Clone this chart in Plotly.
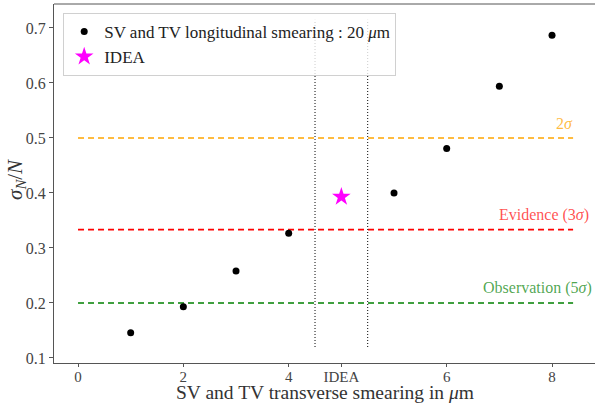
import plotly.graph_objects as go

# Data
x_positions = [1, 2, 3, 4, 6, 7, 8, 9]
sigma_over_n = [0.146, 0.193, 0.258, 0.327, 0.400, 0.481, 0.594, 0.687]
idea_x = [5]
idea_y = [0.393]
tick_vals = [0, 2, 4, 5, 7, 9]
tick_text = ["0", "2", "4", "IDEA", "6", "8"]
y_ticks = [0.1, 0.2, 0.3, 0.4, 0.5, 0.6, 0.7]
y_tick_text = ["0.1", "0.2", "0.3", "0.4", "0.5", "0.6", "0.7"]
thresholds = [0.5, 1/3, 0.2]
threshold_labels = ["2<i>σ</i>", "Evidence (3<i>σ</i>)", "Observation (5<i>σ</i>)"]
threshold_colors = ["#FFA500", "#FF0000", "#008000"]
threshold_text_colors = ["rgba(255,165,0,0.75)", "rgba(255,0,0,0.7)", "rgba(0,128,0,0.7)"]
label_x = [9.44, 9.74, 9.80]
line_x = [0, 9.4]
idea_band = [4.5, 5.5]
band_y = [0.12, 0.715]

FONT = "Liberation Serif"
X_RANGE = [-0.456, 9.816]

fig = go.Figure()

for yv, c in zip(thresholds, threshold_colors):
    fig.add_trace(go.Scatter(x=line_x, y=[yv, yv], mode="lines",
                             line=dict(color=c, width=1.6, dash="6px,4px"),
                             showlegend=False, hoverinfo="skip"))

for xv in idea_band:
    fig.add_trace(go.Scatter(x=[xv, xv], y=band_y, mode="lines",
                             line=dict(color="black", width=1, dash="1px,2px"),
                             showlegend=False, hoverinfo="skip"))

fig.add_trace(go.Scatter(x=x_positions, y=sigma_over_n, mode="markers",
                         marker=dict(color="black", size=7),
                         name="SV and TV longitudinal smearing : 20 <i>μ</i>m"))
fig.add_trace(go.Scatter(x=idea_x, y=idea_y, mode="markers",
                         marker=dict(color="#FF00FF", size=14, symbol="star"),
                         name="IDEA"))
# invisible trace to activate the tick-mark axis
fig.add_trace(go.Scatter(x=[tick_vals[0]], y=[thresholds[0]], xaxis="x2", mode="markers",
                         marker=dict(opacity=0), showlegend=False, hoverinfo="skip"))

for yv, lab, c, lx in zip(thresholds, threshold_labels, threshold_text_colors, label_x):
    fig.add_annotation(x=lx, y=yv, text=lab, showarrow=False,
                       xanchor="right", yanchor="bottom", yshift=4,
                       font=dict(family=FONT, size=16, color=c))

# axis titles
fig.add_annotation(xref="paper", yref="paper", x=0.5, y=0, yshift=-42,
                   xanchor="center", yanchor="bottom", showarrow=False,
                   text="SV and TV transverse smearing in <i>μ</i>m",
                   font=dict(family=FONT, size=19.5, color="#333333"))
fig.add_annotation(xref="paper", yref="paper", x=0, y=0.51, xshift=-38,
                   xanchor="center", yanchor="middle", showarrow=False, textangle=-90,
                   text="<i>σ</i><sub><i>N</i></sub>/<i>N</i>",
                   font=dict(family=FONT, size=21, color="#333333"))

fig.update_layout(
    width=595, height=405,
    margin=dict(l=54, r=0, t=4, b=42, autoexpand=False),
    paper_bgcolor="white", plot_bgcolor="white",
    font=dict(family=FONT, size=15, color="#333333"),
    showlegend=True,
    legend=dict(x=0.017, y=0.975, xanchor="left", yanchor="top",
                bgcolor="rgba(255,255,255,0.8)", bordercolor="#d0d0d0", borderwidth=1,
                font=dict(family=FONT, size=17, color="#222222"),
                tracegroupgap=0),
    xaxis=dict(range=X_RANGE, tickvals=tick_vals, ticktext=tick_text,
               automargin=False, ticks="",
               showgrid=False, zeroline=False, showline=True, linecolor="#555555",
               linewidth=1,
               tickfont=dict(family=FONT, size=15, color="#444444")),
    xaxis2=dict(range=X_RANGE, tickvals=tick_vals, showticklabels=False,
                overlaying="x", side="bottom", anchor="y", automargin=False,
                showgrid=False, zeroline=False, showline=False,
                ticks="outside", ticklen=3, tickcolor="#555555"),
    yaxis=dict(range=[0.0909, 0.7436], tickvals=y_ticks, ticktext=y_tick_text,
               automargin=False,
               showgrid=False, zeroline=False, showline=True, linecolor="#555555",
               linewidth=1, ticks="outside", ticklen=4, tickcolor="#555555",
               tickfont=dict(family=FONT, size=16, color="#444444")),
)
# top spine
fig.add_shape(type="line", xref="paper", yref="paper", x0=0, x1=1, y0=1, y1=1,
              line=dict(color="#555555", width=1))

fig.write_html("out.html", config={"displayModeBar": False},
               post_script="document.body.style.margin='0';document.body.style.padding='0';")
